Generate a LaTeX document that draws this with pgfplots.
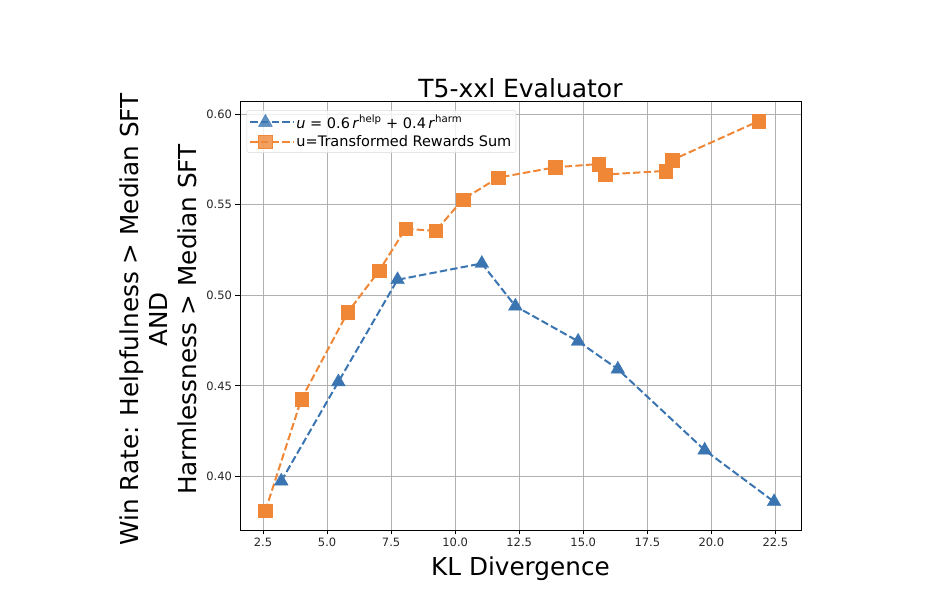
\documentclass[border=0pt]{standalone}
\usepackage{fontspec}
\setmainfont{DejaVu Sans}
\usepackage{pgfplots}
\pgfplotsset{compat=1.18}
\definecolor{mblue}{RGB}{58,117,178}
\definecolor{morange}{RGB}{240,135,55}
\definecolor{gridgray}{RGB}{176,176,176}
\begin{document}
\begin{tikzpicture}
\path[use as bounding box] (-240pt,-74pt) rectangle (700pt,530pt);
\begin{axis}[
  at={(0pt,0pt)}, anchor=south west,
  scale only axis, width=561pt, height=429pt,
  xmin=1.6, xmax=23.5, ymin=0.3704, ymax=0.6073,
  xtick={2.5,5,7.5,10,12.5,15,17.5,20,22.5},
  ytick={0.40,0.45,0.50,0.55,0.60},
  xticklabel style={/pgf/number format/.cd, fixed, fixed zerofill, precision=1},
  yticklabel style={/pgf/number format/.cd, fixed, fixed zerofill, precision=2},
  /pgf/number format/assume math mode=true,
  tick label style={font=\fontsize{11.5}{13}\selectfont, text=black!85},
  grid=major,
  major grid style={gridgray, line width=0.8pt},
  axis line style={black, line width=0.8pt},
  tick style={black, line width=0.8pt},
  tick align=outside,
  major tick length=4.5pt,
  xtick pos=bottom, ytick pos=left,
  xlabel={KL Divergence},
  xlabel style={font=\fontsize{24.7}{29}\selectfont, yshift=-3pt},
  ylabel={Win Rate: Helpfulness > Median SFT\\AND\\Harmlessness > Median SFT},
  ylabel style={font=\fontsize{24.7}{28.8}\selectfont, align=center, yshift=3pt, xshift=-4pt},
  title={T5-xxl Evaluator},
  title style={font=\fontsize{25}{29}\selectfont, yshift=-6pt},
  legend style={font=\fontsize{14.5}{17}\selectfont, draw=black!15, rounded corners=2pt,
    fill=white, fill opacity=0.8, text opacity=1, row sep=2pt, inner sep=2.5pt,
    at={(0.012,0.978)}, anchor=north west},
  legend cell align=left,
  legend image code/.code={
    \draw[mark repeat=2, mark phase=2] plot coordinates {(0pt,0pt) (15pt,0pt) (30pt,0pt)};
    \path (0pt,0pt) -- (43pt,0pt);
  },
]
\addplot[mblue, line width=2pt, dash pattern=on 7.4pt off 3.2pt,
  mark=triangle*, mark size=8pt, mark options={solid, fill=mblue, draw=mblue, line width=0.3pt}]
  coordinates {
  (3.21,0.3974) (5.44,0.4522) (7.75,0.5086) (11.04,0.5176) (12.35,0.4940)
  (14.80,0.4746) (16.35,0.4592) (19.74,0.4145) (22.45,0.3860)
  };
\addlegendentry{\textit{u} = 0.6\,\textit{r}\textsuperscript{help} + 0.4\,\textit{r}\textsuperscript{harm}}
\addplot[morange, line width=2pt, dash pattern=on 7.4pt off 3.2pt,
  mark=square*, mark size=6.8pt, mark options={solid, fill=morange, draw=morange, line width=0.3pt}]
  coordinates {
  (2.59,0.3810) (4.00,0.4428) (5.81,0.4907) (7.04,0.5137) (8.06,0.5367)
  (9.24,0.5356) (10.30,0.5529) (11.68,0.5650) (13.91,0.5707) (15.60,0.5725)
  (15.86,0.5667) (18.22,0.5687) (18.47,0.5747) (21.85,0.5962)
  };
\addlegendentry{u=Transformed Rewards Sum}
\end{axis}
\end{tikzpicture}
\end{document}
